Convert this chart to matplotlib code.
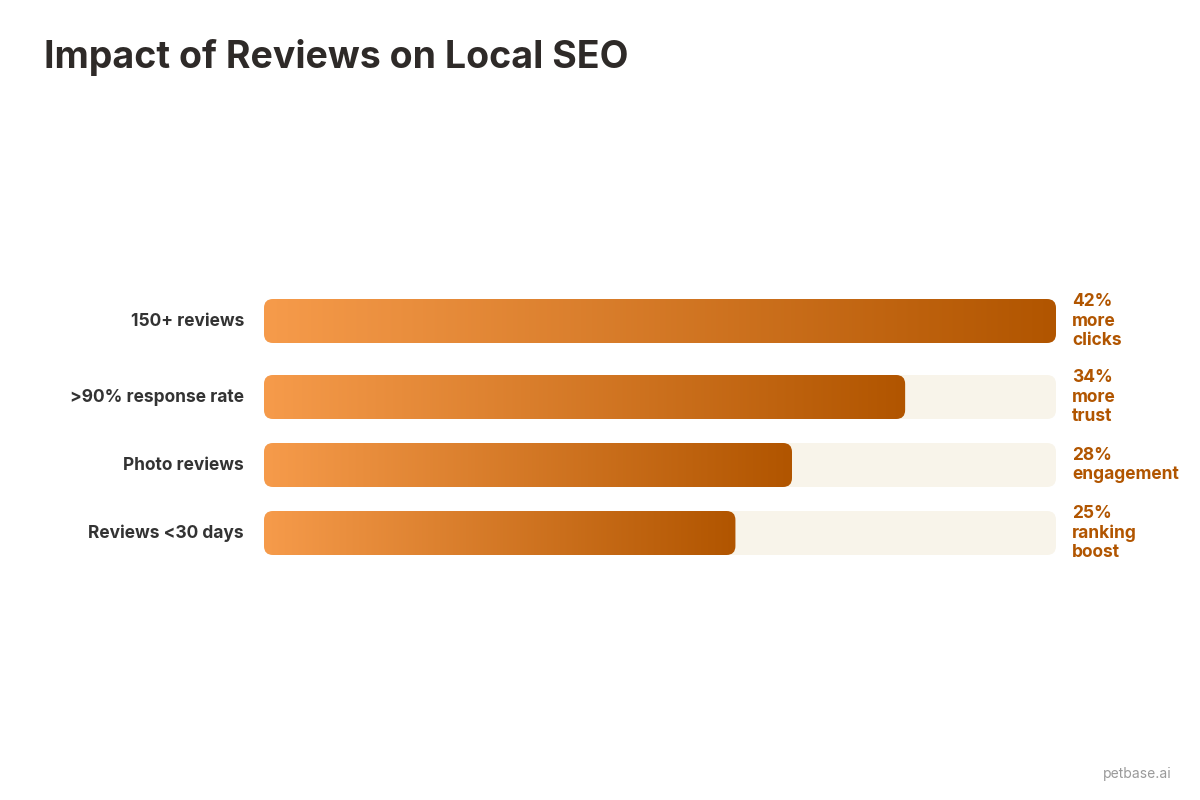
import numpy as np
import matplotlib.pyplot as plt
from matplotlib.patches import FancyBboxPatch

# ── Data ──────────────────────────────────────────────────────────────────────
categories = ["150+ reviews", ">90% response rate", "Photo reviews", "Reviews <30 days"]
values = [42, 34, 28, 25]
value_labels = ["42%\nmore\nclicks", "34%\nmore\ntrust", "28%\nengagement", "25%\nranking\nboost"]
row_centers_px = [321, 397, 465, 533]   # layout (pixel rows)

MAX_VAL = 42
C_LEFT = np.array([0xF6, 0x9B, 0x4B]) / 255
C_RIGHT = np.array([0xB1, 0x55, 0x00]) / 255
TRACK = "#F8F4EA"
VAL_COLOR = "#B15500"
TEXT = "#333333"

plt.rcParams["font.family"] = ["Inter", "DejaVu Sans"]

fig = plt.figure(figsize=(12, 8), dpi=100, facecolor="white")
# axes spans the bar track: x 264..1056 px, y in pixel units top-down
ax = fig.add_axes([264 / 1200, 0, 792 / 1200, 1])
ax.set_xlim(0, MAX_VAL)
ax.set_ylim(800, 0)
ax.axis("off")

bar_h = 44
r_px = 9
xunit_per_px = MAX_VAL / 792
rs = r_px * xunit_per_px
aspect = 1 / xunit_per_px

grad = np.linspace(0, 1, 256)[None, :, None]
grad_img = C_LEFT * (1 - grad) + C_RIGHT * grad

for cat, v, lab, yc in zip(categories, values, value_labels, row_centers_px):
    y0 = yc - bar_h / 2
    track = FancyBboxPatch((0, y0), MAX_VAL, bar_h,
                           boxstyle=f"round,pad=0,rounding_size={rs}",
                           mutation_aspect=aspect, fc=TRACK, ec="none", zorder=1)
    ax.add_patch(track)
    bar = FancyBboxPatch((0, y0), v, bar_h,
                         boxstyle=f"round,pad=0,rounding_size={rs}",
                         mutation_aspect=aspect, fc="none", ec="none", zorder=2)
    ax.add_patch(bar)
    im = ax.imshow(grad_img, extent=(0, v, y0 + bar_h, y0), aspect="auto",
                   zorder=2, interpolation="bicubic")
    im.set_clip_path(bar)
    ax.text(-20 * xunit_per_px, yc, cat, ha="right", va="center",
            fontsize=12.5, fontweight="bold", color=TEXT)
    ax.text(MAX_VAL + 16 * xunit_per_px, yc, lab, ha="left", va="center",
            fontsize=12.5, fontweight="bold", color=VAL_COLOR, linespacing=1.2)

ax.set_xlim(0, MAX_VAL)
ax.set_ylim(800, 0)

fig.text(44 / 1200, 1 - 58 / 800, "Impact of Reviews on Local SEO", ha="left",
         va="center", fontsize=27, fontweight="bold", color="#2E2A28")
fig.text(1172 / 1200, 1 - 774 / 800, "petbase.ai", ha="right", va="center",
         fontsize=10, color="#9A9A9A")

fig.savefig("out.png", dpi=100, facecolor="white")
